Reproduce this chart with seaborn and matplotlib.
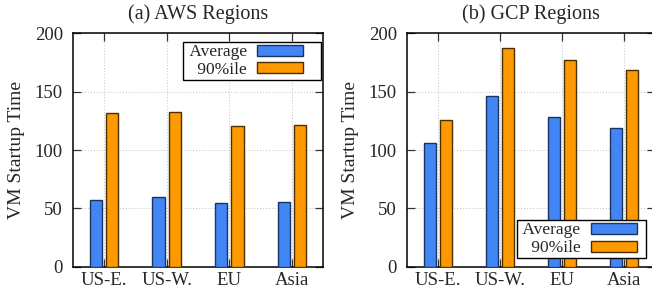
import matplotlib
matplotlib.use("Agg")
import matplotlib.pyplot as plt
import matplotlib.patches as mpatches
from matplotlib.legend_handler import HandlerPatch
import seaborn as sns
import pandas as pd

regions = ["US-E.", "US-W.", "EU", "Asia"]
metrics = ["Average", "90%ile"]
aws_avg = [57, 59.5, 55, 55.5]
aws_p90 = [131.5, 133, 120.5, 121.5]
gcp_avg = [106, 146, 128, 119]
gcp_p90 = [126, 187.5, 177.5, 169]
titles = ["(a) AWS Regions", "(b) GCP Regions"]
ylabel = "VM Startup Time"
yticks = [0, 50, 100, 150, 200]

BLUE = "#4285F4"
ORANGE = "#FF9900"
EDGES = ["#1c3360", "#4a3000"]

sns.set_style("white")
plt.rcParams["font.family"] = ["Liberation Serif", "DejaVu Serif"]

fig = plt.figure(figsize=(6.52, 2.94), dpi=100)
ax1 = fig.add_axes([0.1115, 0.0929, 0.3844, 0.7937])
ax2 = fig.add_axes([0.6238, 0.0929, 0.3808, 0.7937])


def make_df(avg, p90):
    rows = []
    for r, a, p in zip(regions, avg, p90):
        rows.append({"region": r, "metric": metrics[0], "value": a})
        rows.append({"region": r, "metric": metrics[1], "value": p})
    return pd.DataFrame(rows)


def make_handler(frac):
    def left_rect(legend, orig_handle, xdescent, ydescent, width, height, fontsize):
        return mpatches.Rectangle((-xdescent, -ydescent), width * frac, height)
    return HandlerPatch(patch_func=left_rect)


panels = [(ax1, make_df(aws_avg, aws_p90)), (ax2, make_df(gcp_avg, gcp_p90))]
legend_pos = [dict(loc="upper right", bbox_to_anchor=(0.9905, 0.9618)),
              dict(loc="lower right", bbox_to_anchor=(0.9638, 0.036))]
legend_hl = [(3.56, 0.74), (3.06, 0.863)]

for i, (ax, df) in enumerate(panels):
    sns.barplot(data=df, x="region", y="value", hue="metric", order=regions,
                hue_order=metrics, palette=[BLUE, ORANGE], saturation=1,
                width=0.52, gap=0.25, linewidth=1.0, edgecolor="#222222",
                legend=False, ax=ax, zorder=3)
    for cont, ec in zip(ax.containers, EDGES):
        for p in cont:
            p.set_edgecolor(ec)
    ax.set_xlim(-0.5, 3.5)
    ax.set_ylim(0, 200)
    ax.set_yticks(yticks)
    ax.set_xlabel("")
    ax.set_ylabel(ylabel, fontsize=14, labelpad=7)
    ax.set_title(titles[i], fontsize=14.5, pad=10)
    ax.grid(True, linestyle=(0, (1, 2)), color="#c0c0c0", linewidth=0.7, zorder=0)
    ax.set_axisbelow(True)
    for s in ax.spines.values():
        s.set_visible(True)
        s.set_color("black")
        s.set_linewidth(1.1)
    ax.tick_params(axis="both", direction="in", length=6, width=0.9, color="#333333",
                   top=True, right=True, bottom=True, left=True, labelsize=13.5)
    ax.tick_params(axis="y", pad=7)
    ax.tick_params(axis="x", pad=4)
    handles = [mpatches.Patch(facecolor=BLUE, edgecolor=EDGES[0], linewidth=1.0),
               mpatches.Patch(facecolor=ORANGE, edgecolor=EDGES[1], linewidth=1.0)]
    labels = [" " + m for m in metrics]
    hl, frac = legend_hl[i]
    leg = ax.legend(handles, labels, markerfirst=False, fontsize=12.5,
                    handlelength=hl, handleheight=0.6, handletextpad=0.6,
                    labelspacing=0.1, borderpad=0.12, borderaxespad=0.0,
                    frameon=True, fancybox=False, framealpha=1.0,
                    handler_map={mpatches.Patch: make_handler(frac)},
                    **legend_pos[i])
    leg.get_frame().set_edgecolor("black")
    leg.get_frame().set_linewidth(1.0)
    leg.set_zorder(5)

fig.savefig("out.png", dpi=100)
